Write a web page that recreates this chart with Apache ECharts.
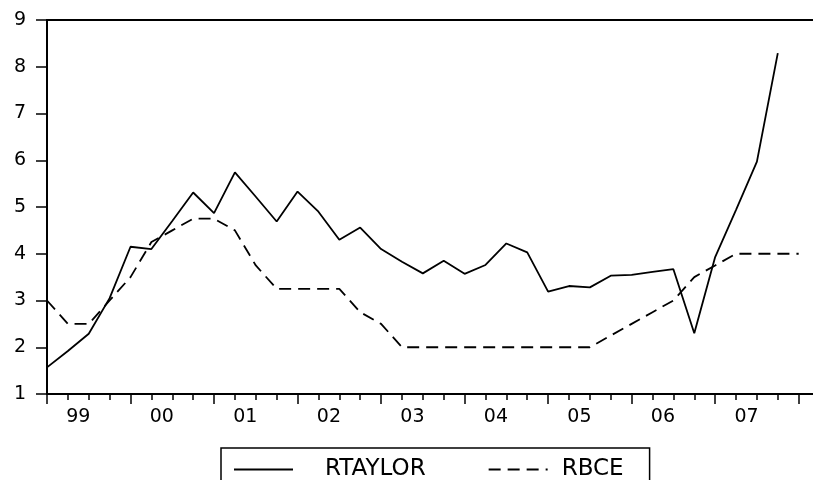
<!DOCTYPE html>
<html>
<head>
<meta charset="utf-8">
<script src="https://cdn.jsdelivr.net/npm/echarts@6/dist/echarts.min.js"></script>
<style>
html,body{margin:0;padding:0;background:#fff;overflow:hidden;}
#chart{width:833px;height:480px;}
</style>
</head>
<body>
<div id="chart"></div>
<script>
// Quarterly observations, 1999Q1 .. 2008Q1
var quarters = ['1999Q1','1999Q2','1999Q3','1999Q4','2000Q1','2000Q2','2000Q3','2000Q4',
  '2001Q1','2001Q2','2001Q3','2001Q4','2002Q1','2002Q2','2002Q3','2002Q4',
  '2003Q1','2003Q2','2003Q3','2003Q4','2004Q1','2004Q2','2004Q3','2004Q4',
  '2005Q1','2005Q2','2005Q3','2005Q4','2006Q1','2006Q2','2006Q3','2006Q4',
  '2007Q1','2007Q2','2007Q3','2007Q4','2008Q1'];
var rtaylor = [1.57, 1.92, 2.29, 3.05, 4.15, 4.10, 4.70, 5.31,
  4.87, 5.74, 5.22, 4.69, 5.33, 4.90, 4.30, 4.56,
  4.10, 3.83, 3.58, 3.85, 3.57, 3.76, 4.22, 4.03,
  3.19, 3.31, 3.28, 3.53, 3.55, 3.61, 3.67, 2.30,
  3.93, 4.94, 5.97, 8.29, null];
var rbce = [3.0, 2.5, 2.5, 3.0, 3.5, 4.25, 4.5, 4.75,
  4.75, 4.5, 3.75, 3.25, 3.25, 3.25, 3.25, 2.75,
  2.5, 2.0, 2.0, 2.0, 2.0, 2.0, 2.0, 2.0,
  2.0, 2.0, 2.0, 2.25, 2.5, 2.75, 3.0, 3.5,
  3.75, 4.0, 4.0, 4.0, 4.0];
var yearLabels = ['99','00','01','02','03','04','05','06','07'];
var yTicks = [1, 9, 1]; // min, max, step

function pairs(arr){ return arr.map(function(v,i){ return [i, v]; }); }

var FONT = 'DejaVu Sans';
var chart = echarts.init(document.getElementById('chart'));
var xMin = 0, xMax = 37.5;
chart.setOption({
  animation: false,
  backgroundColor: '#ffffff',
  grid: { left: 47, top: 20, right: 0, bottom: 86, show: true, borderColor: '#000', borderWidth: 2, containLabel: false },
  xAxis: [
    { type: 'value', min: xMin, max: xMax, interval: 1, position: 'bottom',
      axisLine: { show: true, onZero: false, lineStyle: { color: '#000', width: 2 } },
      axisTick: { show: true, inside: false, length: 6, lineStyle: { color: '#000', width: 1.5 } },
      axisLabel: { show: false }, splitLine: { show: false } },
    { type: 'value', min: xMin, max: xMax, interval: 4, position: 'bottom',
      axisLine: { show: false, onZero: false },
      axisTick: { show: true, inside: false, length: 10, lineStyle: { color: '#000', width: 1.5 } },
      axisLabel: { show: false }, splitLine: { show: false } },
    { type: 'value', min: xMin, max: xMax, interval: 0.5, position: 'bottom',
      axisLine: { show: false, onZero: false }, axisTick: { show: false }, splitLine: { show: false },
      axisLabel: { show: true, margin: 14, color: '#000', fontFamily: FONT, fontSize: 19,
        formatter: function(v){ var k = (v - 1.5) / 4; return (Number.isInteger(k) && yearLabels[k]) ? yearLabels[k] : ''; } } }
  ],
  yAxis: {
    type: 'value', min: yTicks[0], max: yTicks[1], interval: yTicks[2],
    axisLine: { show: true, lineStyle: { color: '#000', width: 2 } },
    axisTick: { show: true, inside: false, length: 11, lineStyle: { color: '#000', width: 1.5 } },
    axisLabel: { margin: 21, color: '#000', fontFamily: FONT, fontSize: 19 },
    splitLine: { show: false }
  },
  legend: {
    left: 221, top: 448, orient: 'horizontal',
    padding: [10, 26, 14, 12],
    borderColor: '#000', borderWidth: 1.5,
    itemWidth: 59, itemHeight: 14, itemGap: 62,
    textStyle: { color: '#000', fontFamily: FONT, fontSize: 23 },
    data: [
      { name: 'RTAYLOR', textStyle: { padding: [0, 20, 0, 27] } },
      { name: 'RBCE', textStyle: { padding: [0, 42, 0, 9] } }
    ]
  },
  series: [
    { name: 'RTAYLOR', type: 'line', xAxisIndex: 0, data: pairs(rtaylor), symbol: 'none', showSymbol: false,
      connectNulls: false, lineStyle: { color: '#000', width: 1.8, type: 'solid' }, itemStyle: { color: 'rgba(0,0,0,0)' } },
    { name: 'RBCE', type: 'line', xAxisIndex: 0, data: pairs(rbce), symbol: 'none', showSymbol: false,
      lineStyle: { color: '#000', width: 1.8, type: [12, 7] }, itemStyle: { color: 'rgba(0,0,0,0)' } }
  ]
});
</script>
</body>
</html>
